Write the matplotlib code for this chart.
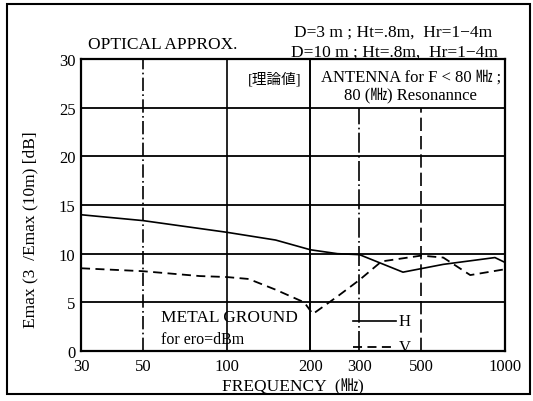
import matplotlib
matplotlib.use('Agg')
import matplotlib.pyplot as plt
from matplotlib.patches import Rectangle
from matplotlib.lines import Line2D

plt.rcParams['font.family'] = ['Liberation Serif', 'Noto Sans CJK JP']

# data
h_freq = [30, 50, 100, 150, 200, 250, 300, 430, 600, 920, 1000]
h_db = [14.0, 13.4, 12.2, 11.4, 10.4, 10.0, 9.9, 8.1, 8.9, 9.6, 9.1]

v_freq = [30, 50, 80, 100, 120, 150, 190, 204, 250, 300, 360, 500, 600, 750, 1000]
v_db = [8.5, 8.2, 7.7, 7.6, 7.4, 6.3, 5.0, 3.8, 5.6, 7.3, 9.2, 9.8, 9.6, 7.8, 8.4]

x_ticks = [30, 50, 100, 200, 300, 500, 1000]
y_ticks = [0, 5, 10, 15, 20, 25, 30]

fig = plt.figure(figsize=(5.33, 4.02), dpi=100)
ax = fig.add_axes([0.152, 0.1244, 0.7955, 0.7263])

ax.set_xscale('log')
ax.set_xlim(30, 1000)
ax.set_ylim(0, 30)

# grid
for y in [5, 10, 15, 20, 25]:
    ax.axhline(y, color='black', lw=1.3, zorder=1)
ax.axvline(50, color='black', lw=1.2, ls=(0, (8, 2, 1, 2)), zorder=1)
ax.axvline(100, color='black', lw=1.2, zorder=1)
ax.axvline(200, color='black', lw=1.4, zorder=1)
ax.axvline(300, color='black', lw=1.2, ls=(0, (12, 2, 1, 2)), ymax=25 / 30, zorder=1)
ax.axvline(500, color='black', lw=1.2, ls=(0, (8, 3)), ymax=25 / 30, zorder=1)

ax.plot(h_freq, h_db, color='black', lw=1.2, zorder=3)
ax.plot(v_freq, v_db, color='black', lw=1.3, ls=(0, (5, 3)), zorder=3)

ax.set_xticks(x_ticks)
ax.set_xticklabels([str(t) for t in x_ticks], fontsize=12)
ax.minorticks_off()
ax.set_yticks(y_ticks)
ax.set_yticklabels([str(t) for t in y_ticks], fontsize=12)
ax.tick_params(axis='x', length=0, pad=5)
ax.tick_params(axis='y', length=0, pad=4)
for s in ax.spines.values():
    s.set_linewidth(1.6)

ax.set_ylabel('Emax (3  /Emax (10m) [dB]', fontsize=12.5)
ax.yaxis.set_label_coords(-0.1, 0.42)
ax.set_xlabel('FREQUENCY  (㎒)', fontsize=12.5, labelpad=3)

# legend drawn inside the plot
ax.add_line(Line2D([284, 405], [3.1, 3.1], color='black', lw=1.2))
ax.text(415, 3.1, 'H', fontsize=12, va='center')
ax.add_line(Line2D([284, 405], [0.45, 0.45], color='black', lw=1.3, ls=(0, (5, 3))))
ax.text(415, 0.45, 'V', fontsize=12, va='center')

ax.text(58, 3.5, 'METAL GROUND', fontsize=12.5, va='center')
ax.text(58, 1.2, 'for ero=dBm', fontsize=11.5, va='center')

ax.text(149, 28.0, '[理論値]', fontsize=10.5, ha='center', va='center')
ax.text(458, 28.2, 'ANTENNA for F < 80 ㎒ ;', fontsize=12, ha='center', va='center')
ax.text(458, 26.4, '80 (㎒) Resonannce', fontsize=12, ha='center', va='center')

fig.text(0.165, 0.888, 'OPTICAL APPROX.', fontsize=12.5, va='center')
fig.text(0.737, 0.920, 'D=3 m ; Ht=.8m,  Hr=1−4m', fontsize=12.5, ha='center', va='center')
fig.text(0.740, 0.870, 'D=10 m ; Ht=.8m,  Hr=1−4m', fontsize=12.5, ha='center', va='center')

# outer frame
fig.add_artist(Rectangle((0.013, 0.018), 0.982, 0.969, transform=fig.transFigure,
                         fill=False, edgecolor='black', lw=1.5))

fig.savefig('out.png', dpi=100)
